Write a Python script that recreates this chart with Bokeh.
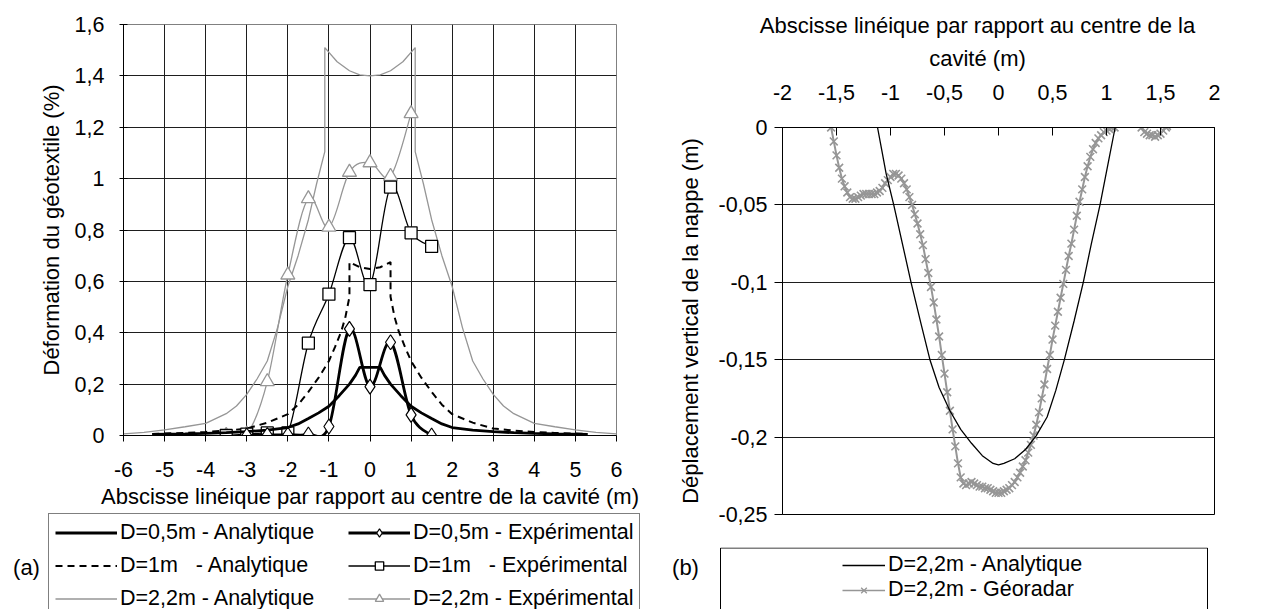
from bokeh.plotting import figure
from bokeh.models import Range1d, FixedTicker, Legend, LegendItem, Label, BoxAnnotation
from bokeh.embed import file_html
from bokeh.resources import INLINE

FONT = "Liberation Sans"
FS = "21.5px"
GREY = "#969696"
NAN = float("nan")

# ---------------- (a) Déformation du géotextile ----------------
x_a05 = [-5.3, -4.5, -4, -3.5, -3, -2.5, -2, -1.75, -1.5, -1.25, -1, -0.75, -0.5, -0.35, -0.25, 0,
         0.25, 0.35, 0.5, 0.75, 1, 1.25, 1.5, 1.75, 2, 2.5, 3, 3.5, 4, 4.5, 5.3]
y_a05 = [0.004, 0.006, 0.008, 0.011, 0.015, 0.021, 0.031, 0.045, 0.066, 0.088, 0.114, 0.155, 0.2, 0.235, 0.265, 0.265,
         0.265, 0.235, 0.2, 0.155, 0.114, 0.088, 0.066, 0.045, 0.031, 0.021, 0.015, 0.011, 0.008, 0.006, 0.004]

x_a1 = [-5.3, -4.5, -4, -3.5, -3, -2.5, -2, -1.75, -1.5, -1.25, -1, -0.85, -0.7, -0.6, -0.5, -0.5, -0.25, 0,
        0.25, 0.5, 0.5, 0.6, 0.7, 0.85, 1, 1.25, 1.5, 1.75, 2, 2.5, 3, 3.5, 4, 4.5, 5.3]
y_a1 = [0.006, 0.01, 0.014, 0.019, 0.027, 0.05, 0.083, 0.12, 0.17, 0.225, 0.29, 0.345, 0.405, 0.46, 0.54, 0.675, 0.655, 0.648,
        0.655, 0.675, 0.54, 0.46, 0.405, 0.345, 0.29, 0.225, 0.17, 0.12, 0.083, 0.05, 0.027, 0.019, 0.014, 0.01, 0.006]

x_a22 = [-6, -5.5, -5, -4.5, -4, -3.5, -3.25, -3, -2.75, -2.5, -2.25, -2, -1.75, -1.5, -1.3, -1.1, -1.1, -0.8, -0.5, -0.25, 0,
         0.25, 0.5, 0.8, 1.1, 1.1, 1.3, 1.5, 1.75, 2, 2.25, 2.5, 2.75, 3, 3.25, 3.5, 4, 4.5, 5, 5.5, 6]
y_a22 = [0.006, 0.012, 0.022, 0.034, 0.047, 0.085, 0.115, 0.16, 0.22, 0.29, 0.42, 0.58, 0.70, 0.84, 0.98, 1.105, 1.51, 1.455, 1.42, 1.404, 1.40,
         1.404, 1.42, 1.455, 1.51, 1.105, 0.98, 0.84, 0.70, 0.58, 0.42, 0.29, 0.22, 0.16, 0.115, 0.085, 0.047, 0.034, 0.022, 0.012, 0.006]

x_e05 = [-3, -2.5, -2, -1.5, -1, -0.5, 0, 0.5, 1, 1.5]
y_e05 = [0.0, 0.002, 0.003, 0.004, 0.035, 0.415, 0.19, 0.363, 0.08, 0.0]

x_e1 = [-3.5, -3, -2.5, -2, -1.5, -1, -0.5, 0, 0.5, 1, 1.5]
y_e1 = [0.0, 0.005, 0.01, 0.01, 0.36, 0.55, 0.77, 0.587, 0.967, 0.789, 0.736]

x_e22 = [-3.5, -3, -2.5, -2, -1.5, -1, -0.5, 0, 0.5, 1]
y_e22 = [0.0, 0.005, 0.21, 0.625, 0.922, 0.811, 1.025, 1.062, 1.009, 1.253]

xticks_a = [-6, -5, -4, -3, -2, -1, 0, 1, 2, 3, 4, 5, 6]
xlabels_a = ["-6", "-5", "-4", "-3", "-2", "-1", "0", "1", "2", "3", "4", "5", "6"]
yticks_a = [0, 0.2, 0.4, 0.6, 0.8, 1.0, 1.2, 1.4, 1.6]
ylabels_a = ["0", "0,2", "0,4", "0,6", "0,8", "1", "1,2", "1,4", "1,6"]

legend_a = ["D=0,5m - Analytique", "D=1m\u00a0\u00a0\u00a0- Analytique", "D=2,2m - Analytique",
            "D=0,5m - Expérimental", "D=1m\u00a0\u00a0\u00a0- Expérimental", "D=2,2m - Expérimental"]

# ---------------- (b) Déplacement vertical de la nappe ----------------
x_ra = [-1.12, -1.08, -1.04, -0.97, -0.89, -0.81, -0.72, -0.635, -0.55, -0.45, -0.35, -0.25, -0.15, -0.05, 0.0,
        0.05, 0.15, 0.25, 0.35, 0.45, 0.53, 0.61, 0.70, 0.785, 0.86, 0.94, 1.01, 1.08]
y_ra = [0.0, -0.015, -0.03, -0.05, -0.075, -0.1, -0.126, -0.15, -0.168, -0.183, -0.195, -0.204, -0.212, -0.217, -0.218,
        -0.217, -0.214, -0.208, -0.199, -0.187, -0.17, -0.15, -0.125, -0.1, -0.075, -0.05, -0.025, 0.0]

x_geo = [-1.55, -1.525, -1.5, -1.475, -1.45, -1.425, -1.4, -1.375, -1.35, -1.325, -1.3, -1.275, -1.25, -1.225, -1.2,
         -1.175, -1.15, -1.125, -1.1, -1.075, -1.05, -1.025, -1.0, -0.975, -0.95, -0.925, -0.9, -0.875, -0.85, -0.825,
         -0.8, -0.775, -0.75, -0.725, -0.7, -0.675, -0.65, -0.625, -0.6, -0.575, -0.55, -0.525, -0.5, -0.475, -0.45,
         -0.425, -0.4, -0.375, -0.35, -0.325, -0.3, -0.275, -0.25, -0.225, -0.2, -0.175, -0.15, -0.125, -0.1, -0.075,
         -0.05, -0.025, 0.0, 0.025, 0.05, 0.075, 0.1, 0.125, 0.15, 0.175, 0.2, 0.225, 0.25, 0.275, 0.3, 0.325, 0.35,
         0.375, 0.4, 0.425, 0.45, 0.475, 0.5, 0.525, 0.55, 0.575, 0.6, 0.625, 0.65, 0.675, 0.7, 0.725, 0.75, 0.775,
         0.8, 0.825, 0.85, 0.875, 0.9, 0.925, 0.95, 0.975, 1.0, 1.025, 1.05, 1.075, 1.1, 1.15, 1.2, 1.25, 1.3, 1.325,
         1.35, 1.375, 1.4, 1.425, 1.45, 1.475, 1.5, 1.525, 1.55, 1.56]
y_geo = [0.0, -0.009, -0.018, -0.026, -0.033, -0.038, -0.042, -0.045, -0.046, -0.046, -0.045, -0.044, -0.043, -0.043, -0.043,
         -0.043, -0.043, -0.042, -0.041, -0.039, -0.036, -0.034, -0.032, -0.030, -0.030, -0.031, -0.033, -0.036, -0.040, -0.045,
         -0.050, -0.056, -0.062, -0.069, -0.076, -0.085, -0.094, -0.103, -0.113, -0.124, -0.135, -0.147, -0.159, -0.171, -0.183,
         -0.195, -0.206, -0.217, -0.226, -0.230, -0.231, -0.230, -0.229, -0.230, -0.231, -0.232, -0.232, -0.233, -0.233, -0.234,
         -0.235, -0.236, -0.236, -0.236, -0.235, -0.234, -0.233, -0.231, -0.229, -0.226, -0.223, -0.219, -0.215, -0.210, -0.205, -0.199, -0.192,
         -0.184, -0.175, -0.166, -0.156, -0.147, -0.137, -0.128, -0.119, -0.110, -0.101, -0.092, -0.083, -0.075, -0.066, -0.057, -0.048, -0.040,
         -0.032, -0.025, -0.019, -0.014, -0.010, -0.007, -0.005, -0.003, -0.002, -0.001, 0.0, 0.0, 0.004, 0.004, 0.004, 0.004, 0.004, 0.0,
         -0.003, -0.004, -0.005, -0.005, -0.006, -0.005, -0.004, -0.002, 0.0, 0.001]

xticks_b = [-2, -1.5, -1, -0.5, 0, 0.5, 1, 1.5, 2]
xlabels_b = ["-2", "-1,5", "-1", "-0,5", "0", "0,5", "1", "1,5", "2"]
yticks_b = [-0.25, -0.2, -0.15, -0.1, -0.05, 0]
ylabels_b = ["-0,25", "-0,2", "-0,15", "-0,1", "-0,05", "0"]

legend_b = ["D=2,2m - Analytique", "D=2,2m - Géoradar"]


def smooth(xs, ys):
    """Excel-like smoothed line: cubic Bezier control points through the data points."""
    n = len(xs)
    d = dict(x0=[], y0=[], x1=[], y1=[], cx0=[], cy0=[], cx1=[], cy1=[])
    for i in range(n - 1):
        xp, yp = (xs[i - 1], ys[i - 1]) if i > 0 else (xs[i], ys[i])
        xn, yn = (xs[i + 2], ys[i + 2]) if i + 2 < n else (xs[i + 1], ys[i + 1])
        d["x0"].append(xs[i]); d["y0"].append(ys[i])
        d["x1"].append(xs[i + 1]); d["y1"].append(ys[i + 1])
        d["cx0"].append(xs[i] + (xs[i + 1] - xp) / 6.0)
        d["cy0"].append(ys[i] + (ys[i + 1] - yp) / 6.0)
        d["cx1"].append(xs[i + 1] - (xn - xs[i]) / 6.0)
        d["cy1"].append(ys[i + 1] - (yn - ys[i]) / 6.0)
    return d


def style_axis(ax, ticks, labels):
    ax.ticker = FixedTicker(ticks=ticks)
    ax.major_label_overrides = dict(zip(ticks, labels))
    ax.major_label_text_font = FONT
    ax.major_label_text_font_size = FS
    ax.major_label_text_color = "black"
    ax.axis_label_text_font = FONT
    ax.axis_label_text_font_size = "22px"
    ax.axis_label_text_font_style = "normal"
    ax.axis_label_text_color = "black"
    ax.axis_line_color = "black"
    ax.major_tick_line_color = "black"
    ax.minor_tick_line_color = None


def place(fig, left, top):
    fig.styles = {"position": "absolute", "left": f"{left}px", "top": f"{top}px"}


def blank(width, height):
    f = figure(width=width, height=height, x_range=Range1d(0, width), y_range=Range1d(0, height),
               x_axis_type=None, y_axis_type=None, output_backend="svg", toolbar_location=None,
               min_border=0, min_border_left=0, min_border_right=0, min_border_top=0, min_border_bottom=0)
    f.outline_line_color = None
    f.background_fill_color = "white"
    f.border_fill_color = "white"
    return f


def text_label(fig, x, y, text):
    fig.add_layout(Label(x=x, y=y, text=text, text_font=FONT, text_font_size="22px", text_color="black",
                         text_align="center", text_baseline="middle"))


def style_legend(lg):
    lg.margin = 0
    lg.label_text_font = FONT
    lg.label_text_font_size = FS
    lg.label_text_color = "black"


# ---------------- figure (a) ----------------
p1 = figure(width=660, height=512, x_range=Range1d(-6, 6), y_range=Range1d(0, 1.6),
            output_backend="svg", toolbar_location=None,
            min_border_left=123, min_border_right=44, min_border_top=24, min_border_bottom=77)
place(p1, 0, 0)
p1.outline_line_color = "#808080"
p1.background_fill_color = "white"
p1.border_fill_color = "white"

style_axis(p1.xaxis[0], xticks_a, xlabels_a)
style_axis(p1.yaxis[0], yticks_a, ylabels_a)
p1.xaxis.axis_label = "Abscisse linéique par rapport au centre de la cavité (m)"
p1.yaxis.axis_label = "Déformation du géotextile (%)"
p1.xaxis.major_tick_out = 6
p1.xaxis.major_tick_in = 0
p1.xaxis.major_label_standoff = 20
p1.xaxis.axis_label_standoff = 4
p1.yaxis.major_tick_out = 4
p1.yaxis.major_tick_in = 4
p1.yaxis.major_label_standoff = 15
p1.yaxis.axis_label_standoff = 8

p1.xgrid.ticker = FixedTicker(ticks=xticks_a)
p1.ygrid.ticker = FixedTicker(ticks=yticks_a)
for g in (p1.xgrid[0], p1.ygrid[0]):
    g.grid_line_color = "#1e1e1e"
    g.grid_line_width = 1

STY_A22 = dict(line_color=GREY, line_width=1.3)
STY_E22 = dict(line_color=GREY, line_width=1.3)
MK_E22 = dict(marker="triangle", fill_color="white", line_color=GREY, line_width=1.3)
STY_A1 = dict(line_color="black", line_width=2, line_dash="7 5")
STY_E1 = dict(line_color="black", line_width=1.3)
MK_E1 = dict(marker="square", fill_color="white", line_color="black", line_width=1.3)
STY_A05 = dict(line_color="black", line_width=2.8)
STY_E05 = dict(line_color="black", line_width=2.8)
MK_E05 = dict(marker="diamond", fill_color="white", line_color="black", line_width=1.2)


def bez(fig, xs, ys, **kw):
    s = smooth(xs, ys)
    return fig.bezier(x0=s["x0"], y0=s["y0"], x1=s["x1"], y1=s["y1"],
                      cx0=s["cx0"], cy0=s["cy0"], cx1=s["cx1"], cy1=s["cy1"], **kw)


p1.line(x_a22, y_a22, **STY_A22)
bez(p1, x_e22, y_e22, **STY_E22)
p1.scatter(x_e22, y_e22, size=14, **MK_E22)
p1.line(x_a1, y_a1, **STY_A1)
bez(p1, x_e1, y_e1, **STY_E1)
p1.scatter(x_e1, y_e1, size=12, **MK_E1)
p1.line(x_a05, y_a05, **STY_A05)
bez(p1, x_e05, y_e05, **STY_E05)
p1.scatter(x_e05, y_e05, size=15, **MK_E05)

# ---------------- legend (a): proxies carry no visible data ----------------
L1 = blank(660, 97)
place(L1, 0, 512)
k_a05 = L1.line(x=[NAN], y=[NAN], **STY_A05)
k_a1 = L1.line(x=[NAN], y=[NAN], **STY_A1)
k_a22 = L1.line(x=[NAN], y=[NAN], **STY_A22)
k_e05 = [L1.line(x=[NAN], y=[NAN], **STY_E05), L1.scatter(x=[NAN], y=[NAN], **MK_E05)]
k_e1 = [L1.line(x=[NAN], y=[NAN], **STY_E1), L1.scatter(x=[NAN], y=[NAN], **MK_E1)]
k_e22 = [L1.line(x=[NAN], y=[NAN], **STY_E22), L1.scatter(x=[NAN], y=[NAN], **MK_E22)]
leg1 = Legend(items=[
    LegendItem(label=legend_a[0], renderers=[k_a05]),
    LegendItem(label=legend_a[1], renderers=[k_a1]),
    LegendItem(label=legend_a[2], renderers=[k_a22]),
    LegendItem(label=legend_a[3], renderers=k_e05),
    LegendItem(label=legend_a[4], renderers=k_e1),
    LegendItem(label=legend_a[5], renderers=k_e22),
], ncols=2, location=(48, -9), orientation="vertical")
style_legend(leg1)
leg1.padding = 6
leg1.spacing = 8
leg1.glyph_width = 62
leg1.glyph_height = 21
leg1.label_height = 21
leg1.label_width = 220
leg1.label_standoff = 3
leg1.border_line_color = "black"
leg1.border_line_width = 1
leg1.background_fill_color = "white"
leg1.background_fill_alpha = 1
L1.add_layout(leg1, "center")
text_label(L1, 26, 42, "(a)")

# ---------------- title (b) ----------------
T2 = blank(605, 75)
place(T2, 660, 0)
text_label(T2, 317, 50, "Abscisse linéique par rapport au centre de la")
text_label(T2, 317, 17, "cavité (m)")

# ---------------- figure (b) ----------------
p2 = figure(width=605, height=472, x_range=Range1d(-2, 2), y_range=Range1d(-0.25, 0),
            x_axis_location="above", output_backend="svg", toolbar_location=None,
            min_border_left=122, min_border_right=51, min_border_top=52, min_border_bottom=33)
place(p2, 660, 75)
p2.outline_line_color = "black"
p2.background_fill_color = "white"
p2.border_fill_color = "white"
style_axis(p2.xaxis[0], xticks_b, xlabels_b)
style_axis(p2.yaxis[0], yticks_b, ylabels_b)
p2.yaxis.axis_label = "Déplacement vertical de la nappe (m)"
p2.xaxis.major_tick_in = 8
p2.xaxis.major_tick_out = 0
p2.xaxis.major_label_standoff = 28
p2.yaxis.major_tick_out = 8
p2.yaxis.major_tick_in = 0
p2.yaxis.major_label_standoff = 7
p2.yaxis.axis_label_standoff = 12
p2.xgrid.visible = False
p2.ygrid.ticker = FixedTicker(ticks=yticks_b)
p2.ygrid.grid_line_color = "#1e1e1e"

STY_GEO = dict(line_color=GREY, line_width=2)
MK_GEO = dict(marker="x", line_color=GREY, line_width=1.6)
STY_RA = dict(line_color="black", line_width=1.3)

p2.line(x_geo, y_geo, **STY_GEO)
p2.scatter(x_geo, y_geo, size=11, **MK_GEO)
p2.line(x_ra, y_ra, **STY_RA)

# ---------------- legend (b) ----------------
L2 = blank(605, 62)
place(L2, 660, 547)
L2.add_layout(BoxAnnotation(left=60, right=547, top=61.5, bottom=-5,
                            fill_alpha=0, line_color="black", line_width=1, line_alpha=1))
k_ra = L2.line(x=[NAN], y=[NAN], **STY_RA)
k_geo = [L2.line(x=[NAN], y=[NAN], line_color=GREY, line_width=1.3),
         L2.scatter(x=[NAN], y=[NAN], marker="x", line_color=GREY, line_width=1.3)]
leg2 = Legend(items=[
    LegendItem(label=legend_b[0], renderers=[k_ra]),
    LegendItem(label=legend_b[1], renderers=k_geo),
], location=(182, 7), orientation="vertical")
style_legend(leg2)
leg2.padding = 0
leg2.spacing = 0
leg2.glyph_width = 43
leg2.glyph_height = 20
leg2.label_height = 20
leg2.label_standoff = 3
leg2.border_line_color = None
leg2.background_fill_alpha = 0
L2.add_layout(leg2, "center")
text_label(L2, 25, 42, "(b)")

open("out.html", "w").write(file_html([p1, L1, T2, p2, L2], INLINE))
